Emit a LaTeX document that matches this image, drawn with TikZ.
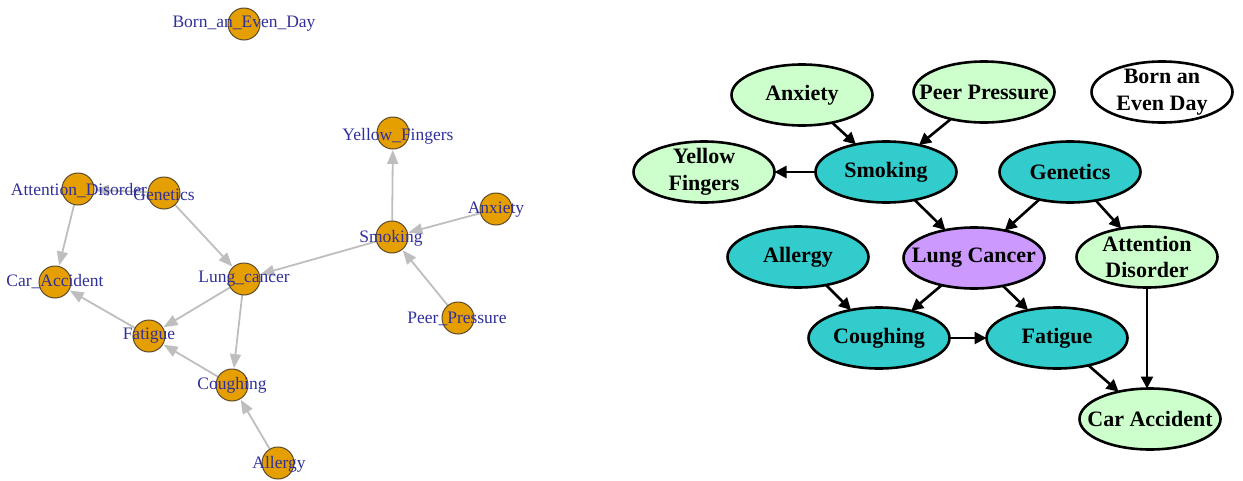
\documentclass[tikz,border=0pt]{standalone}
\usepackage{fontspec}
\setmainfont{Liberation Serif}
\usetikzlibrary{shapes.geometric,arrows.meta}
\pgfdeclarelayer{bg}
\pgfsetlayers{bg,main}
\definecolor{orangeR}{HTML}{E69F00}
\definecolor{lblue}{HTML}{30309C}
\definecolor{egray}{HTML}{BEBEBE}
\definecolor{lgreen}{HTML}{CCFFCC}
\definecolor{tealR}{HTML}{33CCCC}
\definecolor{purp}{HTML}{CC99FF}
\definecolor{cborder}{HTML}{5A4A2A}
\newcommand{\zw}[1]{\makebox[0pt]{#1}}
\tikzset{
  vert/.style={circle, fill=orangeR, draw=cborder, line width=1pt, minimum size=32pt, inner sep=0pt, outer sep=0pt},
  vlabel/.style={text=lblue, inner sep=0pt, font=\fontsize{17.5}{20}\selectfont},
  gedge/.style={draw=egray, line width=1.8pt, -{Triangle[length=14pt,width=11pt]}, shorten >=1pt},
  ell/.style={ellipse, draw=black, line width=2.6pt, minimum width=141pt, minimum height=61pt, inner xsep=0pt, inner ysep=0pt, outer sep=0pt, align=center, font=\bfseries\fontsize{22}{26.5}\selectfont},
  twoline/.style={inner ysep=-6pt},
  green/.style={ell, fill=lgreen},
  tealn/.style={ell, fill=tealR},
  purpn/.style={ell, fill=purp},
  whiten/.style={ell, fill=white},
  bedge/.style={draw=black, line width=2.6pt, -{Triangle[length=12pt,width=12pt]}}
}
\begin{document}
\begin{tikzpicture}[x=1pt,y=-1pt]
\useasboundingbox (0,0) rectangle (1243,480);
% ---------- left graph ----------
\node[vert] (Born) at (244,24) {};
\node[vert] (YF) at (393,133) {};
\node[vert] (Anx) at (496,209) {};
\node[vert] (Smk) at (392,237) {};
\node[vert] (PP) at (458,318) {};
\node[vert] (AD) at (78,189) {};
\node[vert] (Gen) at (164,193) {};
\node[vert] (CA) at (55,282) {};
\node[vert] (LC) at (244,279) {};
\node[vert] (Fat) at (149,336) {};
\node[vert] (Cou) at (232,385) {};
\node[vert] (All) at (278,463) {};
\begin{pgfonlayer}{bg}
\draw[gedge] (Gen) -- (AD);
\draw[gedge] (AD) -- (CA);
\draw[gedge] (Gen) -- (LC);
\draw[gedge] (Smk) -- (LC);
\draw[gedge] (Smk) -- (YF);
\draw[gedge] (Anx) -- (Smk);
\draw[gedge] (PP) -- (Smk);
\draw[gedge] (LC) -- (Fat);
\draw[gedge] (LC) -- (Cou);
\draw[gedge] (Fat) -- (CA);
\draw[gedge] (Cou) -- (Fat);
\draw[gedge] (All) -- (Cou);
\end{pgfonlayer}
\node[vlabel] (BornT) at (244,24) {Born\_an\_Even\_Day};
\node[vlabel] (YFT) at (398,136) {Yellow\_Fingers};
\node[vlabel] (AnxT) at (496,210) {Anxiety};
\node[vlabel] (SmkT) at (391,238) {Smoking};
\node[vlabel] (PPT) at (457,319) {Peer\_Pressure};
\node[vlabel] (ADT) at (79,191) {Attention\_Disorder};
\node[vlabel] (GenT) at (164,195) {Genetics};
\node[vlabel] (CAT) at (55,282) {Car\_Accident};
\node[vlabel] (LCT) at (244,279) {Lung\_cancer};
\node[vlabel] (FatT) at (149,336) {Fatigue};
\node[vlabel] (CouT) at (232,385) {Coughing};
\node[vlabel] (AllT) at (279,464) {Allergy};
% ---------- right graph ----------
\node[green] (rAnx) at (802,95) {\zw{Anxiety}};
\node[green] (rPP) at (984,92) {\zw{Peer Pressure}};
\node[whiten, twoline] (rBorn) at (1162,92) {\zw{Born an}\\\zw{Even Day}};
\node[green, twoline] (rYF) at (704,172) {\zw{Yellow}\\\zw{Fingers}};
\node[tealn] (rSmk) at (886,172) {\zw{Smoking}};
\node[tealn] (rGen) at (1070,172) {\zw{Genetics}};
\node[tealn] (rAll) at (798,257) {\zw{Allergy}};
\node[purpn] (rLC) at (974,258) {\zw{Lung Cancer}};
\node[green, twoline] (rAD) at (1147,257) {\zw{Attention}\\\zw{Disorder}};
\node[tealn] (rCou) at (879,338) {\zw{Coughing}};
\node[tealn] (rFat) at (1057,338) {\zw{Fatigue}};
\node[green] (rCA) at (1150,419) {\zw{Car Accident}};
\draw[bedge] (rAnx) -- (rSmk);
\draw[bedge] (rPP) -- (rSmk);
\draw[bedge] (rSmk) -- (rYF);
\draw[bedge] (rSmk) -- (rLC);
\draw[bedge] (rGen) -- (rLC);
\draw[bedge] (rGen) -- (rAD);
\draw[bedge] (rAll) -- (rCou);
\draw[bedge] (rLC) -- (rCou);
\draw[bedge] (rLC) -- (rFat);
\draw[bedge] (rCou) -- (rFat);
\draw[bedge] (rFat) -- (rCA);
\draw[bedge] (rAD.south) -- (rAD.south |- rCA.north);
\end{tikzpicture}
\end{document}
